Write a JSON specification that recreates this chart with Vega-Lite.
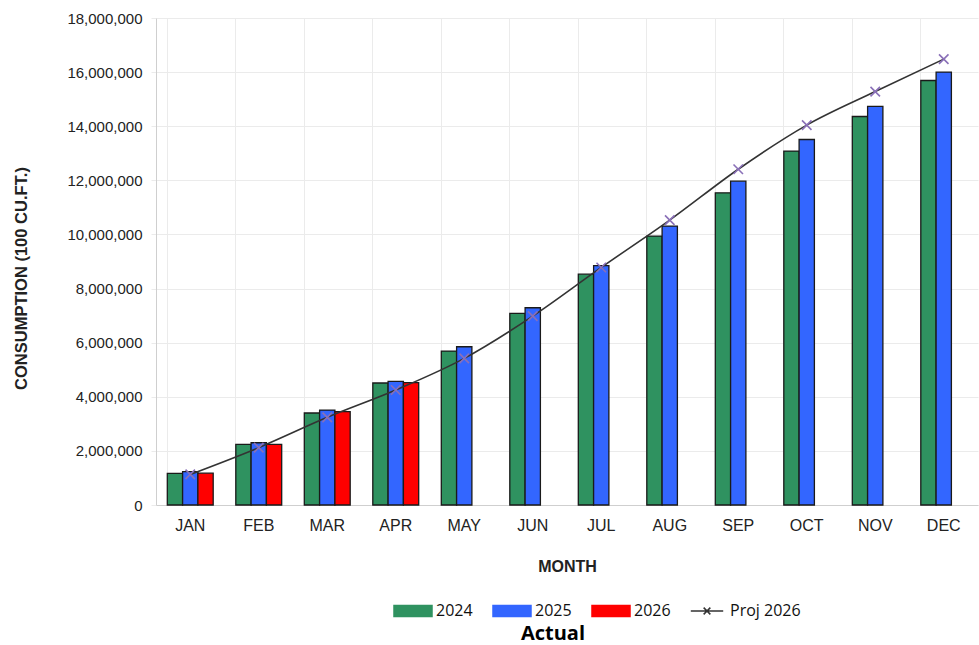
{
  "$schema": "https://vega.github.io/schema/vega-lite/v6.json",
  "width": 822,
  "height": 487,
  "autosize": {"type": "none"},
  "padding": {"left": 156, "top": 18, "right": 1, "bottom": 140},
  "background": "white",
  "title": {
    "text": "Actual",
    "orient": "bottom",
    "anchor": "middle",
    "font": "Open Sans",
    "fontSize": 20,
    "fontWeight": "bold",
    "color": "#000",
    "offset": 4,
    "dx": -14
  },
  "datasets": {
    "actual": [
      {"month": "JAN", "year": "2024", "value": 1170000},
      {"month": "JAN", "year": "2025", "value": 1230000},
      {"month": "JAN", "year": "2026", "value": 1175000},
      {"month": "FEB", "year": "2024", "value": 2240000},
      {"month": "FEB", "year": "2025", "value": 2300000},
      {"month": "FEB", "year": "2026", "value": 2240000},
      {"month": "MAR", "year": "2024", "value": 3400000},
      {"month": "MAR", "year": "2025", "value": 3510000},
      {"month": "MAR", "year": "2026", "value": 3450000},
      {"month": "APR", "year": "2024", "value": 4510000},
      {"month": "APR", "year": "2025", "value": 4570000},
      {"month": "APR", "year": "2026", "value": 4520000},
      {"month": "MAY", "year": "2024", "value": 5690000},
      {"month": "MAY", "year": "2025", "value": 5850000},
      {"month": "JUN", "year": "2024", "value": 7080000},
      {"month": "JUN", "year": "2025", "value": 7290000},
      {"month": "JUL", "year": "2024", "value": 8530000},
      {"month": "JUL", "year": "2025", "value": 8850000},
      {"month": "AUG", "year": "2024", "value": 9940000},
      {"month": "AUG", "year": "2025", "value": 10310000},
      {"month": "SEP", "year": "2024", "value": 11540000},
      {"month": "SEP", "year": "2025", "value": 11970000},
      {"month": "OCT", "year": "2024", "value": 13080000},
      {"month": "OCT", "year": "2025", "value": 13510000},
      {"month": "NOV", "year": "2024", "value": 14360000},
      {"month": "NOV", "year": "2025", "value": 14730000},
      {"month": "DEC", "year": "2024", "value": 15690000},
      {"month": "DEC", "year": "2025", "value": 16000000}
    ],
    "projection": [
      {"month": "JAN", "series": "Proj 2026", "value": 1130000},
      {"month": "FEB", "series": "Proj 2026", "value": 2120000},
      {"month": "MAR", "series": "Proj 2026", "value": 3240000},
      {"month": "APR", "series": "Proj 2026", "value": 4250000},
      {"month": "MAY", "series": "Proj 2026", "value": 5420000},
      {"month": "JUN", "series": "Proj 2026", "value": 6980000},
      {"month": "JUL", "series": "Proj 2026", "value": 8780000},
      {"month": "AUG", "series": "Proj 2026", "value": 10530000},
      {"month": "SEP", "series": "Proj 2026", "value": 12410000},
      {"month": "OCT", "series": "Proj 2026", "value": 14040000},
      {"month": "NOV", "series": "Proj 2026", "value": 15280000},
      {"month": "DEC", "series": "Proj 2026", "value": 16480000}
    ]
  },
  "config": {
    "view": {"stroke": null},
    "axis": {
      "labelFont": "Liberation Sans",
      "labelColor": "#222",
      "titleFont": "Liberation Sans",
      "titleFontSize": 16,
      "titleFontWeight": "bold",
      "titleColor": "#222",
      "gridColor": "#ebebeb",
      "domainColor": "#cfcfcf",
      "tickColor": "#ebebeb"
    },
    "legend": {
      "labelFont": "Open Sans",
      "labelFontSize": 16,
      "labelColor": "#111"
    }
  },
  "encoding": {
    "x": {
      "field": "month",
      "type": "nominal",
      "sort": ["JAN", "FEB", "MAR", "APR", "MAY", "JUN", "JUL", "AUG", "SEP", "OCT", "NOV", "DEC"],
      "scale": {"paddingInner": 0.33, "paddingOuter": 0.165},
      "axis": {
        "title": "MONTH",
        "labelAngle": 0,
        "labelFontSize": 16,
        "labelPadding": 12,
        "titlePadding": 25,
        "ticks": false,
        "grid": true,
        "bandPosition": 0
      }
    }
  },
  "layer": [
    {
      "data": {"name": "actual"},
      "mark": {"type": "bar", "stroke": "#1a1a1a", "strokeWidth": 1.3},
      "encoding": {
        "xOffset": {"field": "year", "type": "nominal", "scale": {"domain": ["2024", "2025", "2026"]}},
        "y": {
          "field": "value",
          "type": "quantitative",
          "scale": {"domain": [0, 18000000], "nice": false},
          "axis": {
            "title": "CONSUMPTION (100 CU.FT.)",
            "values": [0, 2000000, 4000000, 6000000, 8000000, 10000000, 12000000, 14000000, 16000000, 18000000],
            "format": ",d",
            "labelFontSize": 15,
            "titleFontSize": 16.5,
            "tickSize": 5,
            "labelPadding": 9,
            "titlePadding": 37,
            "titleY": 260
          }
        },
        "color": {
          "field": "year",
          "type": "nominal",
          "scale": {
            "domain": ["2024", "2025", "2026", "Proj 2026"],
            "range": ["#2f9260", "#3366ff", "#ff0000", "#333333"]
          },
          "legend": {
            "title": null,
            "orient": "none",
            "legendX": 245,
            "legendY": 581,
            "direction": "horizontal",
            "columns": 4,
            "gridAlign": "none",
            "symbolSize": 500,
            "symbolStrokeColor": "#1a1a1a",
            "symbolStrokeWidth": 1.5,
            "labelOffset": 11,
            "columnPadding": 16,
            "encode": {
              "symbols": {
                "update": {
                  "shape": {"signal": "datum.value === 'Proj 2026' ? 'M-1.45,0H1.45M-0.3,-0.3L0.3,0.3M-0.3,0.3L0.3,-0.3' : 'M-1.7,-0.5H1.7V0.5H-1.7Z'"},
                  "fill": {"signal": "datum.value === 'Proj 2026' ? 'transparent' : scale('color', datum.value)"},
                  "stroke": {"signal": "datum.value === 'Proj 2026' ? '#333333' : '#1a1a1a'"},
                  "strokeWidth": {"value": 1.5}
                }
              }
            }
          }
        }
      }
    },
    {
      "data": {"name": "projection"},
      "mark": {"type": "line", "interpolate": "monotone", "strokeWidth": 1.6},
      "encoding": {
        "y": {"field": "value", "type": "quantitative"},
        "color": {"field": "series", "type": "nominal"}
      }
    },
    {
      "data": {"name": "projection"},
      "mark": {
        "type": "point",
        "shape": "M-1,-1L1,1M-1,1L1,-1",
        "size": 90,
        "filled": false,
        "stroke": "#8a70b8",
        "strokeWidth": 1.6,
        "opacity": 1
      },
      "encoding": {
        "y": {"field": "value", "type": "quantitative"}
      }
    }
  ]
}
